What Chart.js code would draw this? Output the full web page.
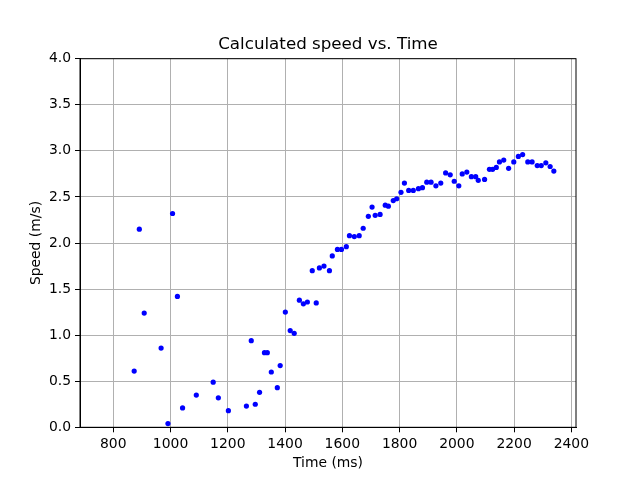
<!DOCTYPE html>
<html>
<head>
<meta charset="utf-8">
<script src="https://cdn.jsdelivr.net/npm/chart.js@4/dist/chart.umd.min.js"></script>
<style>
    html, body { margin: 0; padding: 0; background: #ffffff; }
    #wrap { width: 640px; height: 480px; }
</style>
</head>
<body>
<div id="wrap"><canvas id="speed-chart" width="640" height="480"></canvas></div>
<script>
// データ
const timeMs = [
    873, 891, 908, 967, 991, 1007, 1024, 1042, 1090, 1149,
    1167, 1202, 1265, 1282, 1296, 1311, 1328, 1338, 1352, 1373,
    1383, 1401, 1418, 1432, 1450, 1464, 1478, 1495, 1509, 1520,
    1536, 1555, 1565, 1583, 1597, 1614, 1625, 1642, 1659, 1673,
    1691, 1704, 1715, 1732, 1750, 1761, 1778, 1790, 1805, 1817,
    1832, 1848, 1866, 1880, 1895, 1910, 1927, 1944, 1961, 1977,
    1991, 2007, 2019, 2035, 2051, 2066, 2075, 2097, 2114, 2125,
    2138, 2149, 2164, 2181, 2199, 2215, 2230, 2248, 2263, 2281,
    2295, 2311, 2326, 2339
];
const speed = [
    0.61, 2.15, 1.24, 0.86, 0.04, 2.32, 1.42, 0.21, 0.35, 0.49,
    0.32, 0.18, 0.23, 0.94, 0.25, 0.38, 0.81, 0.81, 0.60, 0.43,
    0.67, 1.25, 1.05, 1.02, 1.38, 1.34, 1.36, 1.70, 1.35, 1.73,
    1.75, 1.70, 1.86, 1.93, 1.93, 1.96, 2.08, 2.07, 2.08, 2.16,
    2.29, 2.39, 2.30, 2.31, 2.41, 2.40, 2.46, 2.48, 2.55, 2.65,
    2.57, 2.57, 2.59, 2.60, 2.66, 2.66, 2.62, 2.65, 2.76, 2.74,
    2.67, 2.62, 2.75, 2.77, 2.72, 2.72, 2.68, 2.69, 2.80, 2.80,
    2.82, 2.88, 2.90, 2.81, 2.88, 2.94, 2.96, 2.88, 2.88, 2.84,
    2.84, 2.87, 2.83, 2.78
];
const xTicks = [800, 1000, 1200, 1400, 1600, 1800, 2000, 2200, 2400];
const yTicks = [0, 0.5, 1.0, 1.5, 2.0, 2.5, 3.0, 3.5, 4.0];

const FONT = 'DejaVu Sans';

// 枠線とタイトル・軸ラベルを描くプラグイン
const framePlugin = {
    id: 'frame',
    afterDraw(chart) {
        const { ctx, chartArea: a } = chart;
        ctx.save();
        ctx.strokeStyle = '#000000';
        ctx.lineWidth = 1;
        ctx.strokeRect(a.left, a.top, a.right - a.left, a.bottom - a.top);

        ctx.fillStyle = '#000000';
        ctx.textAlign = 'center';
        ctx.textBaseline = 'alphabetic';
        const cx = (a.left + a.right) / 2;
        ctx.font = `16.7px "${FONT}"`;
        ctx.fillText('Calculated speed vs. Time', cx, 49);

        ctx.font = `13.9px "${FONT}"`;
        ctx.fillText('Time (ms)', cx, 467);

        ctx.translate(39.5, (a.top + a.bottom) / 2);
        ctx.rotate(-Math.PI / 2);
        ctx.fillText('Speed (m/s)', 0, 0);
        ctx.restore();
    }
};

const points = timeMs.map((t, i) => ({ x: t, y: speed[i] }));

const ctx = document.getElementById('speed-chart').getContext('2d');
const speedChart = new Chart(ctx, {
    type: 'scatter',
    data: {
        datasets: [{
            data: points,
            backgroundColor: '#0000ff',
            borderWidth: 0,
            pointRadius: 2.6,
            pointHoverRadius: 2.6
        }]
    },
    options: {
        responsive: false,
        animation: false,
        events: [],
        layout: { padding: { left: 0, right: 64, top: 58.7, bottom: 0 } },
        plugins: {
            legend: { display: false },
            title: { display: false },
            tooltip: { enabled: false }
        },
        scales: {
            x: {
                type: 'linear',
                min: 683.7,
                max: 2416.4,
                afterBuildTicks: (scale) => { scale.ticks = xTicks.map(v => ({ value: v })); },
                afterFit: (scale) => { scale.height = 52.7; },
                border: { display: true, color: '#000000', width: 1 },
                grid: { color: '#b0b0b0', lineWidth: 1, tickColor: '#000000', tickLength: 5, tickWidth: 1 },
                ticks: { color: '#000000', padding: 4, maxRotation: 0, font: { family: FONT, size: 13.9 }, callback: v => String(v) }
            },
            y: {
                type: 'linear',
                min: 0,
                max: 4,
                afterBuildTicks: (scale) => { scale.ticks = yTicks.map(v => ({ value: v })); },
                afterFit: (scale) => { scale.width = 80; },
                border: { display: true, color: '#000000', width: 1 },
                grid: { color: '#b0b0b0', lineWidth: 1, tickColor: '#000000', tickLength: 5, tickWidth: 1 },
                ticks: { color: '#000000', padding: 4, font: { family: FONT, size: 13.9 }, callback: v => Number(v).toFixed(1) }
            }
        }
    },
    plugins: [framePlugin]
});
</script>
</body>
</html>
